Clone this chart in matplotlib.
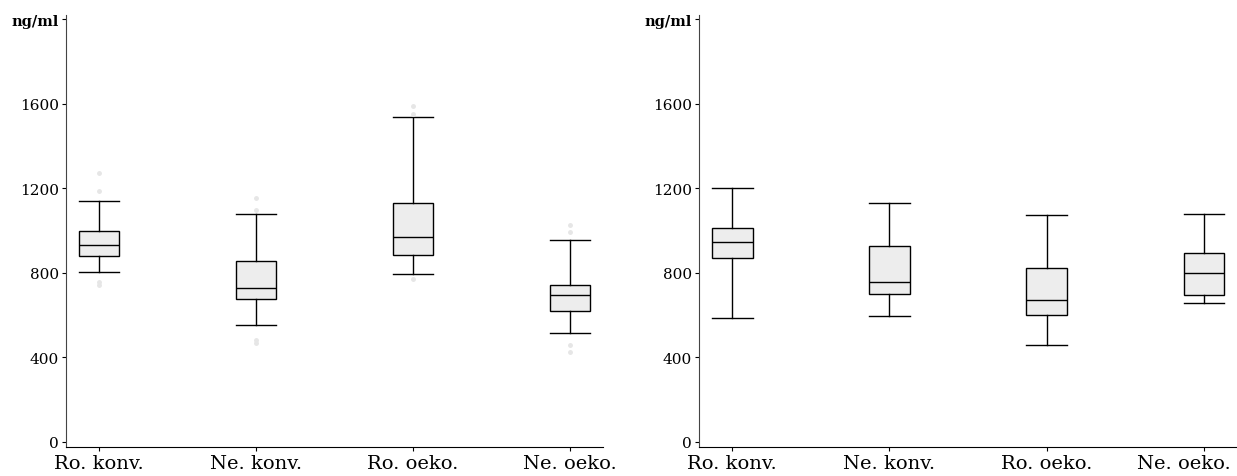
import matplotlib
matplotlib.use("Agg")
import matplotlib.pyplot as plt
from matplotlib.transforms import ScaledTranslation

categories = ["Ro. konv.", "Ne. konv.", "Ro. oeko.", "Ne. oeko."]

# Left panel: five-number summaries and outliers (ng/ml)
left_whislo = [803, 554, 795, 516]
left_q1 = [879, 677, 885, 621]
left_med = [934, 727, 969, 694]
left_q3 = [1000, 858, 1130, 743]
left_whishi = [1139, 1079, 1537, 957]
left_fliers = [
    [1273, 1186, 755, 743],
    [1153, 1098, 482, 470],
    [1592, 1552, 771],
    [1028, 995, 459, 427],
]

# Right panel: five-number summaries (ng/ml)
right_whislo = [588, 598, 459, 658]
right_q1 = [869, 702, 601, 697]
right_med = [945, 759, 672, 798]
right_q3 = [1011, 929, 822, 893]
right_whishi = [1200, 1132, 1074, 1080]
right_fliers = [[], [], [], []]

ytick_values = [0, 400, 800, 1200, 1600, 2000]
ytick_labels = ["0", "400", "800", "1200", "1600", "ng/ml"]

plt.rcParams["font.family"] = ["DejaVu Serif"]

fig = plt.figure(figsize=(12.37, 4.77), dpi=100)
ax_left = fig.add_axes([0.0534, 0.0608, 0.4341, 0.9057])
ax_right = fig.add_axes([0.5651, 0.0608, 0.4349, 0.9057])


def build_stats(lo, q1, med, q3, hi, fl):
    return [
        dict(whislo=a, q1=b, med=c, q3=d, whishi=e, fliers=f, label=lab)
        for a, b, c, d, e, f, lab in zip(lo, q1, med, q3, hi, fl, categories)
    ]


def draw(ax, stats):
    positions = list(range(1, len(stats) + 1))
    ax.bxp(
        stats,
        positions=positions,
        widths=0.26,
        patch_artist=True,
        showfliers=True,
        boxprops=dict(facecolor="#ededed", edgecolor="black", linewidth=1.0),
        medianprops=dict(color="black", linewidth=1.0),
        whiskerprops=dict(color="black", linewidth=1.0),
        capprops=dict(color="black", linewidth=1.0),
        capwidths=0.26,
        flierprops=dict(marker="o", markersize=2.5, markerfacecolor="#e6e6e6",
                        markeredgecolor="#e6e6e6"),
    )
    ax.set_xlim(0.79, 4.21)
    ax.set_ylim(-24, 2021)
    ax.set_xticks(positions)
    ax.set_xticklabels(categories, fontsize=14)
    ax.set_yticks(ytick_values)
    ax.set_yticklabels(ytick_labels, fontsize=11)
    ax.get_yticklabels()[-1].set_fontweight("bold")
    ax.get_yticklabels()[-1].set_fontsize(10.5)
    for side in ("top", "right"):
        ax.spines[side].set_visible(False)
    ax.spines["left"].set_color("#444444")
    ax.spines["bottom"].set_color("black")
    ax.tick_params(axis="both", direction="out", length=3, width=0.8,
                   colors="black", pad=2)
    ax.tick_params(axis="x", pad=2)
    ax.set_facecolor("white")


draw(ax_left, build_stats(left_whislo, left_q1, left_med, left_q3,
                          left_whishi, left_fliers))
draw(ax_right, build_stats(right_whislo, right_q1, right_med, right_q3,
                           right_whishi, right_fliers))

# keep the last category label of the right panel inside the figure
last = ax_right.get_xticklabels()[-1]
last.set_transform(last.get_transform()
                   + ScaledTranslation(-0.2, 0, fig.dpi_scale_trans))

fig.savefig("out.png", dpi=100, facecolor="white")
